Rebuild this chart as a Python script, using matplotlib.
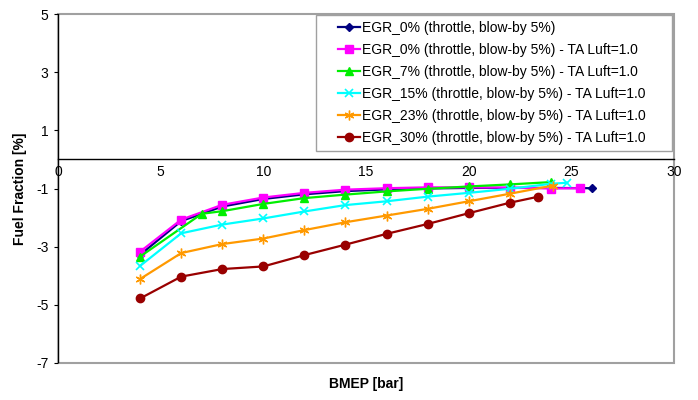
import numpy as np
import matplotlib
matplotlib.use("Agg")
import matplotlib.pyplot as plt
from matplotlib.patches import Rectangle

plt.rcParams['font.family'] = ['Liberation Sans', 'DejaVu Sans']
plt.rcParams['axes.unicode_minus'] = False

# BMEP [bar] / fuel fraction [%] per series
x_egr0 = [4, 6, 8, 10, 12, 14, 16, 18, 20, 22, 24, 26]
y_egr0 = [-3.28, -2.12, -1.62, -1.36, -1.2, -1.09, -1.03, -1.0, -0.98, -0.98, -0.98, -0.99]

x_egr0_ta = [4, 6, 8, 10, 12, 14, 16, 18, 20, 22, 24, 25.4]
y_egr0_ta = [-3.17, -2.07, -1.56, -1.31, -1.15, -1.04, -0.99, -0.96, -0.96, -0.97, -1.0, -0.99]

x_egr7 = [4, 7, 8, 10, 12, 14, 16, 18, 20, 22, 24]
y_egr7 = [-3.34, -1.87, -1.78, -1.53, -1.33, -1.21, -1.1, -1.01, -0.93, -0.86, -0.78]

x_egr15 = [4, 6, 8, 10, 12, 14, 16, 18, 20, 22, 24, 24.8]
y_egr15 = [-3.66, -2.54, -2.24, -2.03, -1.79, -1.57, -1.44, -1.28, -1.15, -1.01, -0.84, -0.8]

x_egr23 = [4, 6, 8, 10, 12, 14, 16, 18, 20, 22, 24.1]
y_egr23 = [-4.11, -3.22, -2.91, -2.72, -2.43, -2.16, -1.93, -1.7, -1.44, -1.18, -0.9]

x_egr30 = [4, 6, 8, 10, 12, 14, 16, 18, 20, 22, 23.4]
y_egr30 = [-4.78, -4.03, -3.77, -3.68, -3.29, -2.93, -2.56, -2.22, -1.85, -1.49, -1.28]

labels = ["EGR_0% (throttle, blow-by 5%)",
          "EGR_0% (throttle, blow-by 5%) - TA Luft=1.0",
          "EGR_7% (throttle, blow-by 5%) - TA Luft=1.0",
          "EGR_15% (throttle, blow-by 5%) - TA Luft=1.0",
          "EGR_23% (throttle, blow-by 5%) - TA Luft=1.0",
          "EGR_30% (throttle, blow-by 5%) - TA Luft=1.0"]

fig = plt.figure(figsize=(6.98, 4.0), dpi=100)
ax = fig.add_axes([58/698, 37/400, 616/698, 349/400])

ax.plot(x_egr0, y_egr0, color='#000080', marker='D', ms=4, lw=1.6, label=labels[0])
ax.plot(x_egr0_ta, y_egr0_ta, color='#ff00ff', marker='s', ms=6, lw=1.6, label=labels[1])
ax.plot(x_egr7, y_egr7, color='#00ee00', marker='^', ms=6, lw=1.6, label=labels[2])
ax.plot(x_egr15, y_egr15, color='#00ffff', marker='x', ms=6, mew=1.2, lw=1.6, label=labels[3])
ax.plot(x_egr23, y_egr23, color='#ff9900', marker=(6, 2, 0), ms=7, mew=1.0, lw=1.6, label=labels[4])
ax.plot(x_egr30, y_egr30, color='#990000', marker='o', ms=6, lw=1.6, label=labels[5])

ax.set_xlim(0, 30)
ax.set_ylim(-7, 5)
ax.set_xticks(np.arange(0, 31, 5))
ax.set_yticks(np.arange(-7, 6, 2))

for s in ['top', 'right', 'left']:
    ax.spines[s].set_visible(False)
ax.spines['bottom'].set_position(('data', 0))
ax.spines['bottom'].set_color('black')
ax.spines['bottom'].set_linewidth(1.0)
ax.add_patch(Rectangle((0, 0), 1, 1, transform=ax.transAxes, fill=False,
                       edgecolor='#a0a0a0', lw=1.5, zorder=0.5, clip_on=False))
ax.axvline(0, color='black', lw=1.0, zorder=1)

ax.tick_params(axis='x', length=0, pad=4, labelsize=10)
ax.tick_params(axis='y', length=3, direction='out', labelsize=10, pad=4)

ax.set_xlabel("BMEP [bar]", fontsize=10, fontweight='bold', labelpad=0)
ax.xaxis.set_label_coords(0.5, -0.04)
ax.set_ylabel("Fuel Fraction [%]", fontsize=10, fontweight='bold')
ax.yaxis.set_label_coords(-0.05, 0.5)

# legend box drawn separately so the entries can sit inset like the original
ax.add_patch(Rectangle(((316-58)/616, (363-151)/349), (672-316)/616, (151-15)/349,
                       transform=ax.transAxes, facecolor='white',
                       edgecolor='#a0a0a0', lw=1.0, zorder=3))
leg = ax.legend(loc='upper left', bbox_to_anchor=((338-58)/616, (363-21)/349),
                fontsize=10, frameon=False, handlelength=1.6, handletextpad=0.1,
                labelspacing=0.58, borderpad=0, borderaxespad=0)
leg.set_zorder(4)

fig.savefig("out.png", dpi=100)
